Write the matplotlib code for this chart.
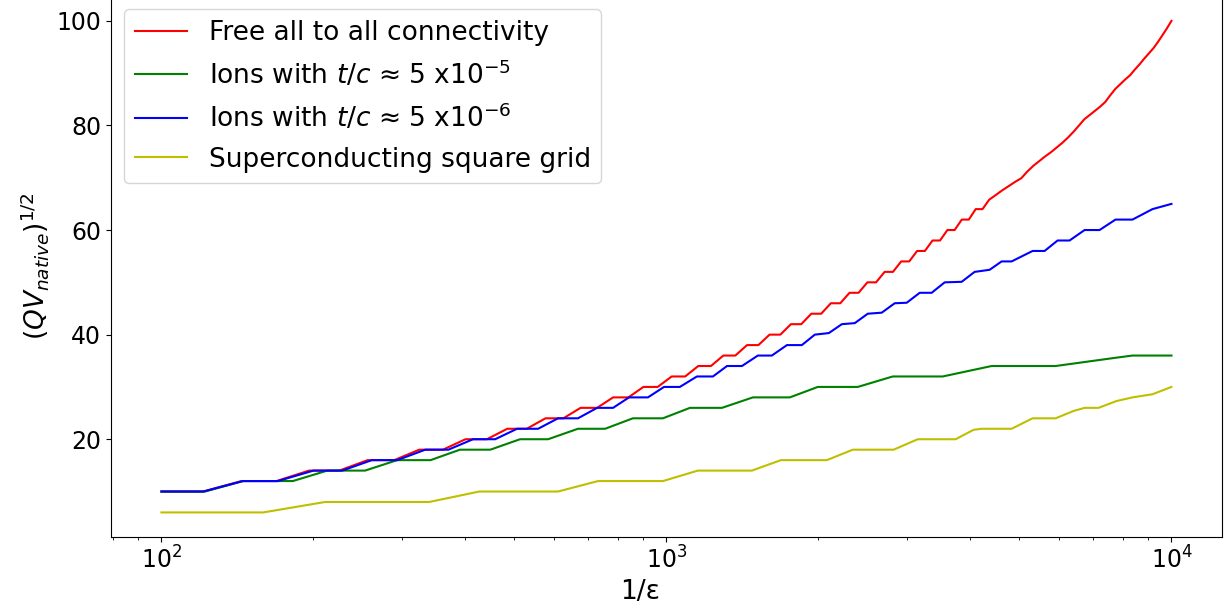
#!/usr/bin/env python
"""
Square root of native quantum volume versus inverse error rate (1/eps)
for several hardware connectivity models.
"""

import matplotlib
matplotlib.use("Agg")
import matplotlib.pyplot as plt

# 1/eps sample points used for the all-to-all curve
FREE_X = [100, 121, 144, 169, 196, 225, 256, 289, 324, 361, 400, 441, 484, 529,
          576, 625, 676, 729, 784, 841, 900, 961, 1024, 1089, 1156, 1225, 1296,
          1369, 1444, 1521, 1600, 1681, 1764, 1849, 1936, 2025, 2116, 2209, 2304,
          2401, 2500, 2601, 2704, 2809, 2916, 3025, 3136, 3249, 3364, 3481, 3600,
          3721, 3844, 3969, 4096, 4225, 4356, 4489, 4624, 4761, 4900, 5041, 5184,
          5329, 5476, 5625, 5776, 5929, 6084, 6241, 6400, 6561, 6724, 6889, 7056,
          7225, 7396, 7569, 7744, 7921, 8100, 8281, 8464, 8649, 8836, 9025, 9216,
          9409, 9604, 9801, 10000]
FREE_Y = [10, 10, 12, 12, 14, 14, 16, 16, 18, 18, 20, 20, 22, 22, 24, 24, 26, 26,
          28, 28, 30, 30, 32, 32, 34, 34, 36, 36, 38, 38, 40, 40, 42, 42, 44, 44,
          46, 46, 48, 48, 50, 50, 52, 52, 54, 54, 56, 56, 58, 58, 60, 60, 62, 62,
          64, 64, 65.8, 66.7, 67.6, 68.4, 69.2, 69.9, 71.2, 72.3, 73.2, 74.1, 74.9,
          75.8, 76.7, 77.7, 78.8, 80, 81.2, 82, 82.8, 83.6, 84.5, 85.8, 87, 87.9,
          88.8, 89.6, 90.7, 91.7, 92.8, 93.8, 94.8, 96, 97.3, 98.6, 100]

# ions, t/c ~ 5e-5
IONS5_X = [100, 122, 145, 182, 213, 253, 293, 341, 390, 448, 513, 583, 668, 756,
           858, 984, 1113, 1288, 1483, 1755, 1994, 2393, 2806, 3524, 4405, 5896,
           7784, 8372, 10000]
IONS5_Y = [10, 10, 12, 12, 14, 14, 16, 16, 18, 18, 20, 20, 22, 22,
           24, 24, 26, 26, 28, 28, 30, 30, 32, 32, 34, 34,
           35.6, 36, 36]

# ions, t/c ~ 5e-6
IONS6_X = [100, 121, 145, 170, 200, 228, 261, 293, 333, 370, 414, 458, 506, 557,
           610, 668, 729, 784, 843, 919, 989, 1063, 1149, 1236, 1318, 1411, 1517,
           1617, 1732, 1854, 1967, 2097, 2225, 2360, 2504, 2669, 2831, 2991, 3173,
           3351, 3556, 3842, 4076, 4365, 4610, 4825, 5309, 5608, 5950, 6284, 6729,
           7204, 7748, 8372, 9170, 10000]
IONS6_Y = [10, 10, 12, 12, 14, 14, 16, 16, 18, 18, 20, 20, 22, 22,
           24, 24, 26, 26, 28, 28, 30, 30, 32, 32, 34, 34, 36,
           36, 38, 38, 40, 40.3, 42, 42.2, 44, 44.2, 46, 46.1, 48,
           48, 50, 50.1, 52, 52.4, 54, 54, 56, 56, 58, 58, 60,
           60, 62, 62, 64, 65]

# superconducting square grid
GRID_X = [100, 159, 211, 339, 426, 610, 732, 984, 1154, 1476, 1685, 2078, 2339,
          2818, 3145, 3738, 4057, 4208, 4825, 5309, 5896, 6399, 6729, 7171, 7784,
          8372, 9170, 10000]
GRID_Y = [6, 6, 8, 8, 10, 10, 12, 12, 14, 14, 16, 16, 18,
          18, 20, 20, 21.8, 22, 22, 24, 24, 25.4, 26, 26, 27.3,
          28, 28.6, 30]

LABELS = [
    "Free all to all connectivity",
    r"Ions with $t/c$ ≈ 5 x10$^{-5}$",
    r"Ions with $t/c$ ≈ 5 x10$^{-6}$",
    "Superconducting square grid",
]


def main():
    fig = plt.figure(figsize=(12.26, 6.09), dpi=100)
    ax = fig.add_axes([0.0905, 0.1182, 0.9062, 0.8879])

    ax.plot(FREE_X, FREE_Y, color="r", label=LABELS[0])
    ax.plot(IONS5_X, IONS5_Y, color="g", label=LABELS[1])
    ax.plot(IONS6_X, IONS6_Y, color="b", label=LABELS[2])
    ax.plot(GRID_X, GRID_Y, color="y", label=LABELS[3])

    ax.set_xscale("log")
    ax.set_yticks([20, 40, 60, 80, 100])
    ax.tick_params(labelsize=17)
    # label sits a little left of centre in the original
    ax.set_xlabel("1/ε", fontsize=19, x=0.476)
    ax.set_ylabel(r"$(QV_{native})^{1/2}$", fontsize=19)
    ax.legend(loc="upper left", fontsize=19)

    fig.savefig("out.png", dpi=100)


if __name__ == "__main__":
    main()
